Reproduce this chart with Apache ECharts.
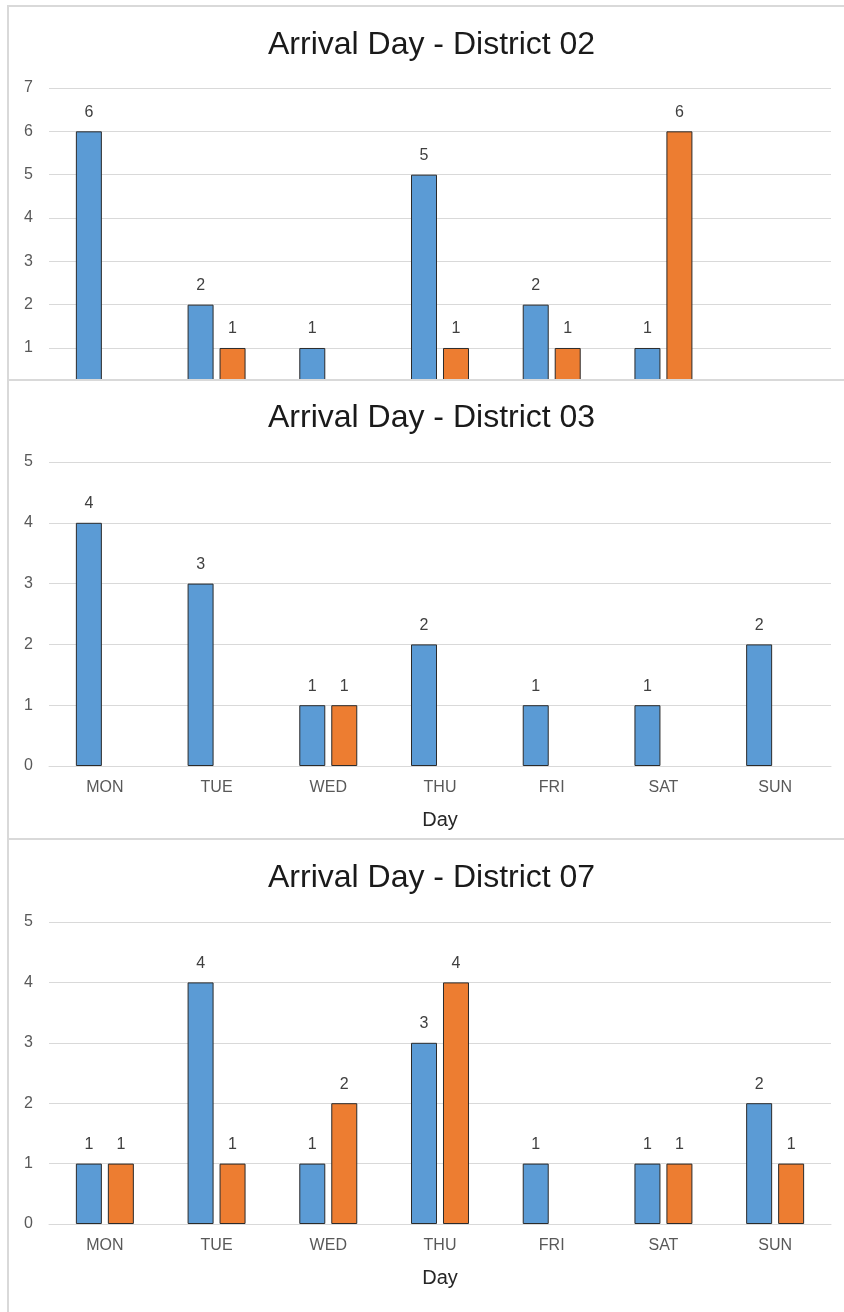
<!DOCTYPE html>
<html>
<head>
<meta charset="utf-8">
<script src="https://cdn.jsdelivr.net/npm/echarts@6/dist/echarts.min.js"></script>
<style>
html,body{margin:0;padding:0;background:#fff;}
#c{width:844px;height:1312px;}
</style>
</head>
<body>
<div id="c"></div>
<script>
// ---- data ----
const days = ['MON','TUE','WED','THU','FRI','SAT','SUN'];
const titles = ['Arrival Day - District 02','Arrival Day - District 03','Arrival Day - District 07'];
const yMax = [7, 5, 5];
const blue02   = [6, 2, 1, 5, 2, 1, null];
const orange02 = [null, 1, null, 1, 1, 6, null];
const blue03   = [4, 3, 1, 2, 1, 1, 2];
const orange03 = [null, null, 1, null, null, null, null];
const blue07   = [1, 4, 1, 3, 1, 1, 2];
const orange07 = [1, 1, 2, 4, null, 1, 1];

const FONT = 'Liberation Sans, Arial, sans-serif';
const BLUE = '#5B9BD5', ORANGE = '#ED7D31', GRID = '#d9d9d9';

const grids = [
  {left: 49, right: 13, top: 88, height: 303.3},
  {left: 49, right: 13, top: 462, height: 304},
  {left: 49, right: 13, top: 922, height: 302}
];
const titleTops = [24, 397, 857];

const seriesData = [[blue02, orange02],[blue03, orange03],[blue07, orange07]];

const chart = echarts.init(document.getElementById('c'), null, {renderer:'canvas'});

const xAxis = [], yAxis = [], series = [], title = [];
for (let i = 0; i < 3; i++) {
  title.push({
    text: titles[i], left: 263, top: titleTops[i],
    textStyle: {fontFamily: FONT, fontSize: 32, fontWeight: 'normal', color: '#1a1a1a'}
  });
  xAxis.push({
    type: 'category', gridIndex: i, data: days,
    axisLine: {show: true, lineStyle: {color: GRID, width: 1}},
    axisTick: {show: false},
    axisLabel: {show: i > 0, margin: 14, color: '#595959', fontFamily: FONT, fontSize: 16},
    name: i > 0 ? 'Day' : '', nameLocation: 'middle', nameGap: 44,
    nameTextStyle: {fontFamily: FONT, fontSize: 20, color: '#262626'}
  });
  yAxis.push({
    type: 'value', gridIndex: i, min: 0, max: yMax[i], interval: 1,
    axisLine: {show: false}, axisTick: {show: false},
    axisLabel: {margin: 16, color: '#595959', fontFamily: FONT, fontSize: 16},
    splitLine: {lineStyle: {color: GRID, width: 1}}
  });
  const cols = [BLUE, ORANGE];
  for (let s = 0; s < 2; s++) {
    series.push({
      type: 'bar', name: s === 0 ? 'Series 1' : 'Series 2',
      xAxisIndex: i, yAxisIndex: i,
      data: seriesData[i][s],
      barWidth: 26, barGap: '23%',
      itemStyle: {color: cols[s], borderColor: '#2b2b2b', borderWidth: 1},
      label: {show: true, position: 'top', distance: 11, color: '#404040', fontFamily: FONT, fontSize: 16},
      animation: false
    });
  }
}

chart.setOption({
  animation: false,
  backgroundColor: '#fff',
  title: title,
  grid: grids,
  xAxis: xAxis,
  yAxis: yAxis,
  series: series,
  graphic: [
    {type: 'rect', z: 100, shape: {x: 0, y: 381, width: 844, height: 20}, style: {fill: '#fff'}},
    {type: 'line', z: 101, shape: {x1: 7, y1: 6, x2: 844, y2: 6}, style: {stroke: GRID, lineWidth: 2}},
    {type: 'line', z: 101, shape: {x1: 8, y1: 5, x2: 8, y2: 1312}, style: {stroke: GRID, lineWidth: 2}},
    {type: 'line', z: 101, shape: {x1: 7, y1: 380, x2: 844, y2: 380}, style: {stroke: GRID, lineWidth: 2}},
    {type: 'line', z: 101, shape: {x1: 7, y1: 839, x2: 844, y2: 839}, style: {stroke: GRID, lineWidth: 2}}
  ]
});
</script>
</body>
</html>
